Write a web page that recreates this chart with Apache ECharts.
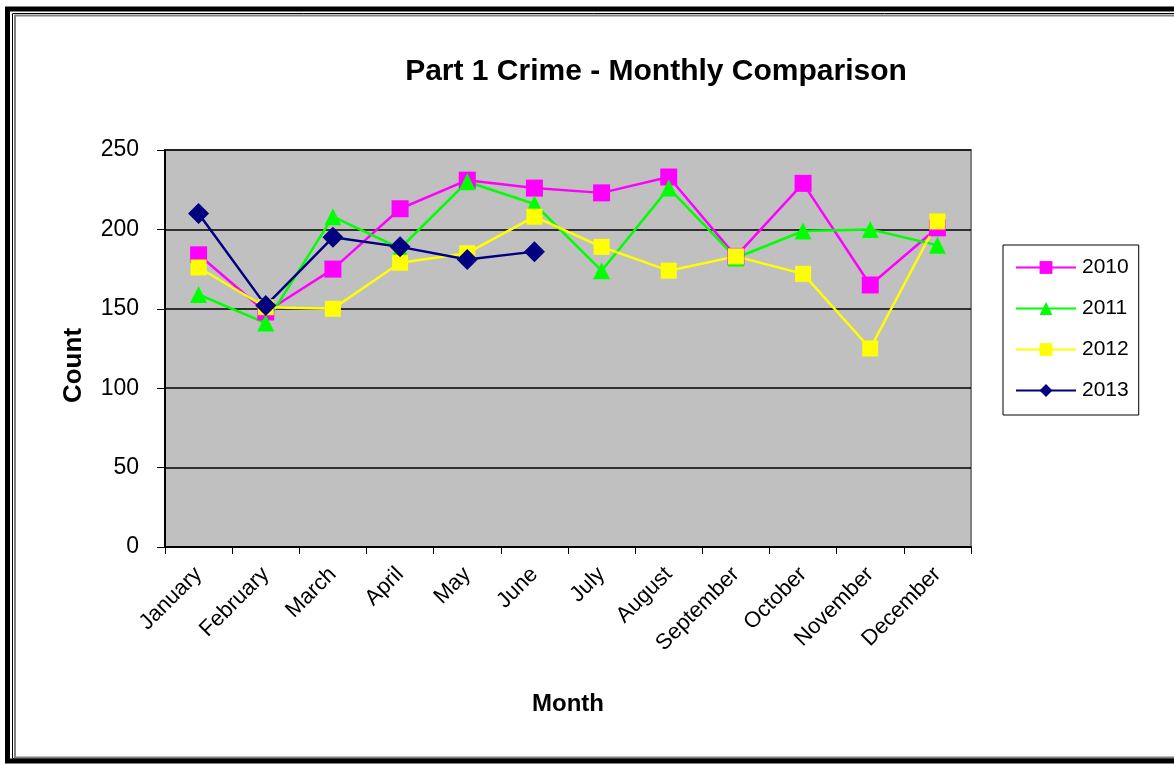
<!DOCTYPE html>
<html>
<head>
<meta charset="utf-8">
<script src="https://cdn.jsdelivr.net/npm/echarts@6/dist/echarts.min.js"></script>
<style>
html,body{margin:0;padding:0;background:#fff;}
#chart{width:1174px;height:764px;}
</style>
</head>
<body>
<div id="chart"></div>
<script>
var months = ['January','February','March','April','May','June','July','August','September','October','November','December'];
var yTicks = [0, 50, 100, 150, 200, 250];
var s2010 = [184, 148, 175, 213, 231, 226, 223, 233, 183, 229, 165, 201];
var s2011 = [159, 141, 208, 188, 230, 216, 174, 226, 182, 199, 200, 190];
var s2012 = [176, 151, 150, 179, 185, 208, 189, 174, 183, 172, 125, 205];
var s2013 = [210, 152, 195, 189, 181, 186];

var FONT = "'Liberation Sans', Arial, sans-serif";

var chart = echarts.init(document.getElementById('chart'));

function mkSeries(name, data, color, symbol, size) {
  return {
    name: name,
    type: 'line',
    data: data,
    symbol: symbol,
    symbolSize: size,
    showAllSymbol: true,
    lineStyle: {color: color, width: 2.5},
    itemStyle: {color: color},
    emphasis: {disabled: true},
    animation: false
  };
}

var option = {
  animation: false,
  backgroundColor: '#ffffff',
  textStyle: {fontFamily: FONT},
  title: {
    text: 'Part 1 Crime - Monthly Comparison',
    left: 651, top: 52, textAlign: 'center',
    textStyle: {fontFamily: FONT, fontWeight: 'bold', fontSize: 30, color: '#000'}
  },
  grid: {left: 165, right: 203, top: 150, bottom: 217, show: true, backgroundColor: '#c0c0c0', borderColor: '#808080', borderWidth: 2},
  legend: {
    orient: 'vertical',
    left: 1003, top: 245,
    width: 134,
    itemWidth: 60, itemHeight: 16, itemGap: 20,
    padding: [12, 10, 14, 12],
    borderColor: '#000', borderWidth: 1,
    textStyle: {fontFamily: FONT, fontSize: 21, color: '#000', padding: [0, 0, 0, 1]},
    data: ['2010', '2011', '2012', '2013']
  },
  xAxis: {
    type: 'category',
    data: months,
    boundaryGap: true,
    name: 'Month',
    nameLocation: 'middle',
    nameGap: 145,
    nameTextStyle: {fontFamily: FONT, fontWeight: 'bold', fontSize: 24, color: '#000'},
    axisLine: {lineStyle: {color: '#000', width: 2}},
    axisTick: {show: true, length: 7, lineStyle: {color: '#000', width: 1}},
    axisLabel: {rotate: 45, fontSize: 22, color: '#000', margin: 24, interval: 0, fontFamily: FONT},
    splitLine: {show: false}
  },
  yAxis: {
    type: 'value',
    min: 0, max: 250, interval: 50,
    name: 'Count',
    nameLocation: 'middle',
    nameGap: 78,
    nameRotate: 90,
    nameTextStyle: {fontFamily: FONT, fontWeight: 'bold', fontSize: 26, color: '#000', padding: [0, 34, 0, 0]},
    axisLine: {show: true, lineStyle: {color: '#000', width: 2}},
    axisTick: {show: true, inside: false, length: 8, lineStyle: {color: '#000', width: 1}},
    axisLabel: {fontSize: 23, color: '#000', margin: 26, fontFamily: FONT,
      formatter: function (v) { return yTicks.indexOf(v) >= 0 ? String(v) : ''; }},
    splitLine: {show: true, lineStyle: {color: '#000', width: 1.5}}
  },
  series: [
    mkSeries('2010', s2010, '#ff00ff', 'rect', 17),
    mkSeries('2011', s2011, '#00ff00', 'triangle', 17),
    mkSeries('2012', s2012, '#ffff00', 'rect', 16),
    mkSeries('2013', s2013, '#000080', 'diamond', 21)
  ],
  graphic: [
    {type: 'rect', silent: true, z: 100, shape: {x: 7.5, y: 9, width: 1200, height: 752}, style: {fill: 'none', stroke: '#000', lineWidth: 5}},
    {type: 'rect', silent: true, z: 100, shape: {x: 12.5, y: 13.5, width: 1200, height: 745}, style: {fill: 'none', stroke: '#000', lineWidth: 1}},
    {type: 'rect', silent: true, z: 100, shape: {x: 15, y: 15.5, width: 1200, height: 742}, style: {fill: 'none', stroke: '#808080', lineWidth: 2}}
  ]
};
chart.setOption(option);
</script>
</body>
</html>
